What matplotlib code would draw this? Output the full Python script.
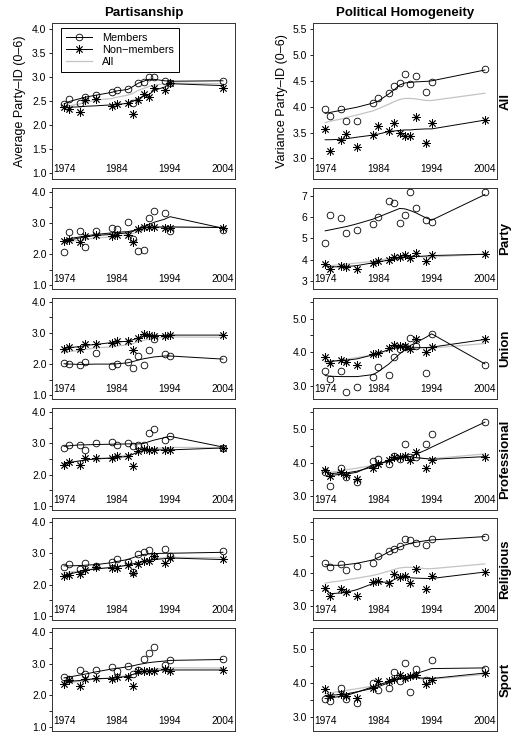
import matplotlib
matplotlib.use('Agg')
import matplotlib.pyplot as plt
from matplotlib.ticker import FixedLocator, FormatStrFormatter
from matplotlib.lines import Line2D

plt.rcParams['font.family'] = ['Liberation Sans', 'DejaVu Sans']

years = [1974, 1975, 1977, 1978, 1980, 1983, 1984, 1986, 1987, 1988, 1989, 1990, 1991, 1993, 1994, 2004]
groups = ['All', 'Party', 'Union', 'Professional', 'Religious', 'Sport']

# Partisanship: average party-ID (left column)
part_everyone = [2.38, 2.40, 2.44, 2.47, 2.52, 2.55, 2.58, 2.62, 2.66, 2.72, 2.76, 2.80, 2.83, 2.86, 2.87, 2.86]

p_all_mem = [2.44, 2.54, 2.45, 2.59, 2.63, 2.68, 2.73, 2.75, 2.46, 2.88, 2.90, 3.00, 3.00, 2.91, 2.88, 2.92]
p_all_mem_fit = [2.44, 2.49, 2.55, 2.58, 2.62, 2.68, 2.71, 2.74, 2.80, 2.87, 2.91, 2.95, 2.95, 2.92, 2.91, 2.92]
p_all_non = [2.37, 2.34, 2.28, 2.52, 2.54, 2.39, 2.43, 2.45, 2.23, 2.52, 2.64, 2.59, 2.77, 2.73, 2.88, 2.77]
p_all_non_fit = [2.36, 2.37, 2.38, 2.39, 2.40, 2.42, 2.43, 2.45, 2.49, 2.55, 2.60, 2.63, 2.72, 2.79, 2.86, 2.82]

p_party_mem = [2.07, 2.70, 2.73, 2.24, 2.73, 2.83, 2.80, 3.04, 2.47, 2.10, 2.12, 3.15, 3.37, 3.31, 2.75, 2.77]
p_party_mem_fit = [2.45, 2.50, 2.55, 2.58, 2.63, 2.68, 2.70, 2.72, 2.75, 2.82, 2.88, 2.95, 3.02, 3.12, 3.20, 2.83]
p_party_non = [2.42, 2.45, 2.38, 2.59, 2.62, 2.59, 2.62, 2.62, 2.38, 2.80, 2.86, 2.86, 2.88, 2.83, 2.83, 2.83]
p_party_non_fit = [2.42, 2.45, 2.52, 2.55, 2.60, 2.63, 2.65, 2.68, 2.73, 2.80, 2.85, 2.87, 2.87, 2.87, 2.87, 2.85]

p_union_mem = [2.03, 1.99, 1.97, 2.06, 2.35, 1.95, 2.00, 2.08, 1.88, 2.27, 1.98, 2.45, 2.81, 2.31, 2.27, 2.16]
p_union_mem_fit = [2.01, 2.00, 1.99, 1.99, 2.00, 2.00, 2.01, 2.04, 2.08, 2.13, 2.17, 2.20, 2.23, 2.26, 2.26, 2.16]
p_union_non = [2.50, 2.56, 2.50, 2.63, 2.63, 2.69, 2.73, 2.73, 2.45, 2.84, 2.98, 2.93, 2.90, 2.90, 2.93, 2.93]
p_union_non_fit = [2.50, 2.53, 2.56, 2.60, 2.63, 2.69, 2.71, 2.73, 2.78, 2.84, 2.88, 2.90, 2.91, 2.92, 2.93, 2.93]

p_prof_mem = [2.85, 2.95, 2.95, 2.79, 3.00, 3.05, 2.93, 3.02, 2.92, 2.95, 2.95, 3.34, 3.44, 3.11, 3.23, 2.85]
p_prof_mem_fit = [2.90, 2.92, 2.95, 2.95, 2.96, 2.97, 2.97, 2.98, 2.98, 2.98, 2.99, 3.05, 3.10, 3.18, 3.22, 2.88]
p_prof_non = [2.32, 2.39, 2.31, 2.53, 2.53, 2.53, 2.58, 2.58, 2.29, 2.74, 2.81, 2.79, 2.79, 2.79, 2.79, 2.85]
p_prof_non_fit = [2.35, 2.39, 2.44, 2.47, 2.50, 2.53, 2.55, 2.58, 2.65, 2.72, 2.77, 2.79, 2.79, 2.79, 2.79, 2.85]

p_rel_mem = [2.57, 2.67, 2.51, 2.68, 2.61, 2.72, 2.83, 2.72, 2.40, 2.97, 3.04, 3.10, 2.91, 3.12, 2.91, 3.06]
p_rel_mem_fit = [2.60, 2.60, 2.61, 2.62, 2.64, 2.70, 2.74, 2.80, 2.86, 2.92, 2.96, 2.98, 2.99, 3.00, 3.00, 3.03]
p_rel_non = [2.27, 2.32, 2.33, 2.48, 2.57, 2.54, 2.52, 2.62, 2.36, 2.67, 2.75, 2.75, 2.91, 2.68, 2.86, 2.81]
p_rel_non_fit = [2.30, 2.34, 2.42, 2.46, 2.50, 2.55, 2.57, 2.62, 2.66, 2.70, 2.74, 2.77, 2.80, 2.83, 2.85, 2.80]

p_sport_mem = [2.57, 2.51, 2.81, 2.68, 2.81, 2.88, 2.78, 2.91, 2.68, 2.79, 3.15, 3.34, 3.52, 2.97, 3.11, 3.15]
p_sport_mem_fit = [2.55, 2.58, 2.64, 2.67, 2.74, 2.83, 2.85, 2.90, 2.93, 2.97, 3.00, 3.03, 3.05, 3.08, 3.10, 3.13]
p_sport_non = [2.36, 2.47, 2.30, 2.52, 2.54, 2.52, 2.59, 2.57, 2.30, 2.78, 2.78, 2.78, 2.78, 2.83, 2.78, 2.79]
p_sport_non_fit = [2.42, 2.44, 2.47, 2.50, 2.52, 2.54, 2.56, 2.60, 2.66, 2.72, 2.75, 2.77, 2.78, 2.80, 2.80, 2.80]

# Political homogeneity: variance of party-ID (right column)
hom_everyone = [3.69, 3.72, 3.76, 3.79, 3.84, 3.92, 3.96, 4.05, 4.10, 4.14, 4.16, 4.16, 4.15, 4.12, 4.12, 4.26]

h_all_mem = [3.95, 3.82, 3.95, 3.72, 3.72, 4.08, 4.17, 4.26, 4.40, 4.45, 4.64, 4.44, 4.59, 4.28, 4.48, 4.72]
h_all_mem_fit = [3.87, 3.89, 3.93, 3.95, 3.99, 4.07, 4.11, 4.25, 4.33, 4.42, 4.46, 4.47, 4.48, 4.49, 4.50, 4.71]
h_all_non = [3.57, 3.15, 3.35, 3.47, 3.22, 3.45, 3.62, 3.52, 3.69, 3.50, 3.44, 3.44, 3.80, 3.29, 3.69, 3.74]
h_all_non_fit = [3.36, 3.36, 3.37, 3.38, 3.41, 3.45, 3.47, 3.52, 3.53, 3.54, 3.55, 3.55, 3.56, 3.57, 3.57, 3.74]

h_party_mem = [4.76, 6.09, 5.97, 5.26, 5.39, 5.69, 6.01, 6.77, 6.67, 5.73, 6.09, 7.17, 6.41, 5.86, 5.78, 7.17]
h_party_mem_fit = [5.35, 5.40, 5.50, 5.55, 5.68, 5.90, 6.00, 6.20, 6.30, 6.40, 6.38, 6.30, 6.20, 5.95, 5.85, 7.05]
h_party_non = [3.79, 3.57, 3.70, 3.64, 3.54, 3.85, 3.95, 3.98, 4.14, 4.14, 4.22, 4.06, 4.30, 3.95, 4.22, 4.26]
h_party_non_fit = [3.72, 3.66, 3.66, 3.67, 3.72, 3.85, 3.90, 3.97, 4.03, 4.08, 4.12, 4.13, 4.14, 4.17, 4.19, 4.25]

h_union_mem = [3.45, 3.19, 3.45, 2.80, 2.95, 3.25, 3.57, 3.32, 3.86, 4.10, 4.15, 4.43, 4.17, 3.39, 4.55, 3.63]
h_union_mem_fit = [3.30, 3.28, 3.27, 3.27, 3.27, 3.33, 3.42, 3.65, 3.80, 3.95, 4.08, 4.20, 4.28, 4.45, 4.55, 3.65]
h_union_non = [3.86, 3.67, 3.77, 3.72, 3.62, 3.95, 3.99, 4.13, 4.20, 4.18, 4.17, 4.10, 4.38, 4.02, 4.16, 4.38]
h_union_non_fit = [3.72, 3.73, 3.75, 3.76, 3.80, 3.92, 3.97, 4.08, 4.12, 4.15, 4.14, 4.12, 4.13, 4.14, 4.15, 4.38]

h_prof_mem = [3.72, 3.30, 3.85, 3.57, 3.42, 4.04, 4.10, 3.95, 4.21, 4.12, 4.56, 4.16, 4.16, 4.56, 4.86, 5.20]
h_prof_mem_fit = [3.75, 3.62, 3.66, 3.66, 3.72, 3.93, 3.98, 4.05, 4.10, 4.14, 4.16, 4.18, 4.25, 4.38, 4.46, 5.20]
h_prof_non = [3.79, 3.62, 3.72, 3.65, 3.52, 3.85, 3.95, 4.07, 4.16, 4.18, 4.21, 4.07, 4.31, 3.85, 4.09, 4.16]
h_prof_non_fit = [3.75, 3.68, 3.70, 3.70, 3.75, 3.88, 3.95, 4.06, 4.12, 4.15, 4.18, 4.18, 4.15, 4.12, 4.10, 4.18]

h_rel_mem = [4.29, 4.17, 4.27, 4.08, 4.19, 4.29, 4.50, 4.65, 4.70, 4.78, 5.00, 4.97, 4.87, 4.81, 4.99, 5.07]
h_rel_mem_fit = [4.24, 4.22, 4.22, 4.24, 4.28, 4.38, 4.45, 4.62, 4.70, 4.76, 4.82, 4.87, 4.90, 4.95, 4.97, 5.07]
h_rel_non = [3.54, 3.30, 3.51, 3.44, 3.32, 3.73, 3.76, 3.69, 3.95, 3.88, 3.90, 3.71, 4.10, 3.51, 3.90, 4.02]
h_rel_non_fit = [3.50, 3.38, 3.40, 3.42, 3.50, 3.68, 3.72, 3.72, 3.80, 3.87, 3.88, 3.85, 3.84, 3.83, 3.83, 4.02]

h_sport_mem = [3.54, 3.47, 3.87, 3.54, 3.42, 4.00, 3.79, 3.85, 4.33, 4.06, 4.58, 3.74, 4.41, 4.10, 4.67, 4.43]
h_sport_mem_fit = [3.55, 3.57, 3.62, 3.64, 3.74, 3.90, 3.95, 4.05, 4.10, 4.15, 4.18, 4.22, 4.28, 4.38, 4.43, 4.45]
h_sport_non = [3.84, 3.64, 3.69, 3.64, 3.57, 3.87, 4.06, 4.08, 4.13, 4.23, 4.16, 4.20, 4.23, 3.99, 4.10, 4.30]
h_sport_non_fit = [3.64, 3.65, 3.67, 3.69, 3.75, 3.85, 3.90, 4.02, 4.08, 4.12, 4.15, 4.17, 4.17, 4.14, 4.14, 4.30]

left_panels = [
    (p_all_mem, p_all_mem_fit, p_all_non, p_all_non_fit),
    (p_party_mem, p_party_mem_fit, p_party_non, p_party_non_fit),
    (p_union_mem, p_union_mem_fit, p_union_non, p_union_non_fit),
    (p_prof_mem, p_prof_mem_fit, p_prof_non, p_prof_non_fit),
    (p_rel_mem, p_rel_mem_fit, p_rel_non, p_rel_non_fit),
    (p_sport_mem, p_sport_mem_fit, p_sport_non, p_sport_non_fit),
]
right_panels = [
    (h_all_mem, h_all_mem_fit, h_all_non, h_all_non_fit),
    (h_party_mem, h_party_mem_fit, h_party_non, h_party_non_fit),
    (h_union_mem, h_union_mem_fit, h_union_non, h_union_non_fit),
    (h_prof_mem, h_prof_mem_fit, h_prof_non, h_prof_non_fit),
    (h_rel_mem, h_rel_mem_fit, h_rel_non, h_rel_non_fit),
    (h_sport_mem, h_sport_mem_fit, h_sport_non, h_sport_non_fit),
]

W, H = 522, 738
fig = plt.figure(figsize=(W / 100, H / 100), dpi=100)

rows_px = [(23, 179), (188, 289), (298, 399), (408, 510), (518, 620), (628, 731)]
left_px = (52, 235)
right_px = (313, 497)
star = (8, 2, 0)
grey = '#c4c4c4'


def add_ax(xr, yr):
    x0, x1 = xr
    y0, y1 = yr
    return fig.add_axes([x0 / W, 1 - y1 / H, (x1 - x0) / W, (y1 - y0) / H])


def draw(ax, everyone, mem, mem_fit, non, non_fit):
    ax.plot(years, everyone, color=grey, lw=0.9)
    ax.plot(years, mem_fit, color='black', lw=0.7)
    ax.plot(years, non_fit, color='black', lw=0.7)
    ax.plot(years, mem, ls='none', marker='o', ms=4.8, mfc='none', mec='black', mew=0.6)
    ax.plot(years, non, ls='none', marker=star, ms=6, color='black', mew=0.6)
    ax.set_xlim(1971.72, 2006.28)
    ax.set_xticks([1974, 1984, 1994, 2004])
    ax.tick_params(axis='x', direction='in', length=0, pad=-10.5, labelsize=7.3)
    ax.tick_params(axis='y', which='both', direction='out', length=2.5, width=0.6,
                   labelsize=7.5, pad=1.5)
    for s in ax.spines.values():
        s.set_linewidth(0.7)
        s.set_color('#333333')


for i, g in enumerate(groups):
    # left column
    ax = add_ax(left_px, rows_px[i])
    draw(ax, part_everyone, *left_panels[i])
    ax.set_ylim(0.88, 4.12)
    if i == 0:
        ax.set_yticks([1.0, 1.5, 2.0, 2.5, 3.0, 3.5, 4.0])
        ax.set_title('Partisanship', fontsize=9.5, fontweight='bold', pad=5)
        ax.set_ylabel('Average Party\u2013ID (0\u20136)', fontsize=9, labelpad=4)
        handles = [
            Line2D([], [], color='black', lw=0.7, marker='o', ms=4.8, mfc='none', mew=0.6),
            Line2D([], [], color='black', lw=0.7, marker=star, ms=6, mew=0.6),
            Line2D([], [], color=grey, lw=0.9),
        ]
        leg = ax.legend(handles, ['Members', 'Non\u2212members', 'All'], loc='upper left',
                        bbox_to_anchor=(0.05, 0.968), borderaxespad=0, fontsize=7.8,
                        fancybox=False, edgecolor='black', framealpha=1, handlelength=2.4,
                        borderpad=0.45, labelspacing=0.2, handletextpad=0.9)
        leg.get_frame().set_linewidth(0.7)
    else:
        ax.set_yticks([1.0, 2.0, 3.0, 4.0])
        ax.yaxis.set_minor_locator(FixedLocator([1.5, 2.5, 3.5]))
    ax.yaxis.set_major_formatter(FormatStrFormatter('%.1f'))

    # right column
    ax = add_ax(right_px, rows_px[i])
    draw(ax, hom_everyone, *right_panels[i])
    if i == 0:
        ax.set_ylim(2.6, 5.62)
        ax.set_yticks([3.0, 3.5, 4.0, 4.5, 5.0, 5.5])
        ax.yaxis.set_major_formatter(FormatStrFormatter('%.1f'))
        ax.set_title('Political Homogeneity', fontsize=9.5, fontweight='bold', pad=5)
        ax.set_ylabel('Variance Party\u2013ID (0\u20136)', fontsize=9, labelpad=4)
    elif g == 'Party':
        ax.set_ylim(2.62, 7.36)
        ax.set_yticks([3, 4, 5, 6, 7])
    else:
        ax.set_ylim(2.6, 5.62)
        ax.set_yticks([3.0, 4.0, 5.0])
        ax.yaxis.set_minor_locator(FixedLocator([3.5, 4.5, 5.5]))
        ax.yaxis.set_major_formatter(FormatStrFormatter('%.1f'))
    ax.text(1.045, 0.5, g, transform=ax.transAxes, rotation=90, ha='center', va='center',
            fontsize=9.5, fontweight='bold')

fig.savefig('out.png', dpi=100)
